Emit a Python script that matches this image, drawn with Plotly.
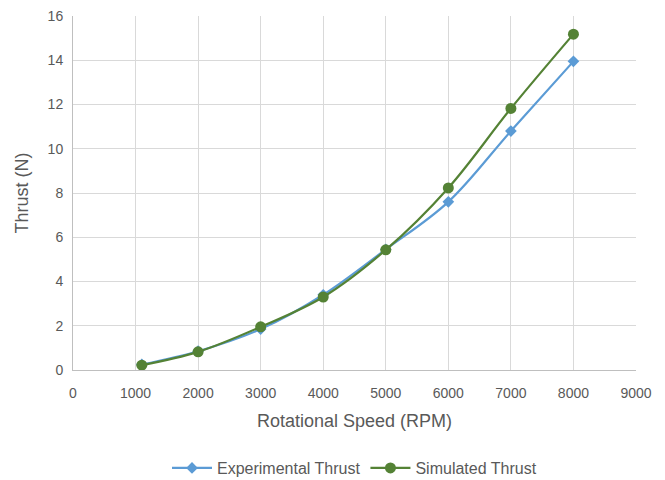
import plotly.graph_objects as go

rpm = [1100, 2000, 3000, 4000, 5000, 6000, 7000, 8000]
experimental = [0.25, 0.85, 1.85, 3.4, 5.45, 7.6, 10.8, 13.95]
simulated = [0.22, 0.82, 1.95, 3.3, 5.43, 8.23, 11.82, 15.18]

fig = go.Figure()
fig.add_trace(go.Scatter(
    x=rpm, y=experimental, name="Experimental Thrust",
    mode="lines+markers", line=dict(color="#5B9BD5", width=2.2, shape="spline"),
    marker=dict(symbol="diamond", size=9, color="#5B9BD5")))
fig.add_trace(go.Scatter(
    x=rpm, y=simulated, name="Simulated Thrust",
    mode="lines+markers", line=dict(color="#548235", width=2.2, shape="spline"),
    marker=dict(symbol="circle", size=11, color="#548235")))

font = "Liberation Sans, Arial, sans-serif"
fig.update_layout(
    width=657, height=472,
    margin=dict(l=65, r=29, t=8, b=110, autoexpand=False),
    paper_bgcolor="white", plot_bgcolor="white",
    font=dict(family=font, color="#595959", size=14),
    legend=dict(orientation="h", x=0.5, xanchor="center", y=-0.277, yanchor="middle",
                font=dict(size=16, color="#595959"), itemwidth=40, tracegroupgap=30),
    xaxis=dict(range=[0, 9000], dtick=1000, showgrid=True, gridcolor="#D9D9D9",
               showline=True, linecolor="#BFBFBF", zeroline=False, ticks="",
               ticklabelstandoff=10, ticklabeloverflow="allow",
               title=dict(text="Rotational Speed (RPM)", font=dict(size=18), standoff=14),
               tickfont=dict(size=14), automargin=False),
    yaxis=dict(range=[0, 16], dtick=2, showgrid=True, gridcolor="#D9D9D9",
               showline=True, linecolor="#BFBFBF", zeroline=False, ticks="",
               ticklabelstandoff=6, ticklabeloverflow="allow",
               title=dict(text="Thrust (N)", font=dict(size=18), standoff=14),
               tickfont=dict(size=14), automargin=False),
)
fig.write_html("out.html")
